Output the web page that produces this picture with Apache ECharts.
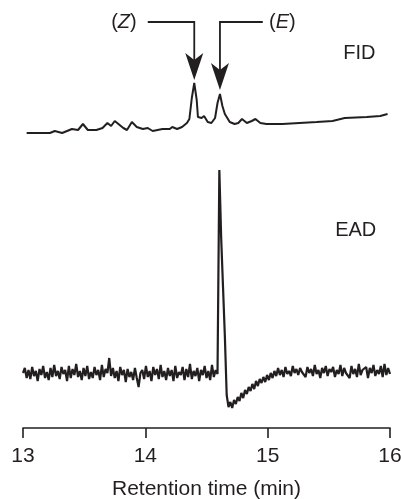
<!DOCTYPE html>
<html>
<head>
<meta charset="utf-8">
<script src="https://cdn.jsdelivr.net/npm/echarts@6/dist/echarts.min.js"></script>
<style>
  html, body { margin: 0; padding: 0; background: #fff; }
  #chart { width: 401px; height: 499px; }
</style>
</head>
<body>
<div id="chart"></div>
<script>
var ink = '#231f20';
var font = '"Liberation Sans", Arial, Helvetica, sans-serif';

var timeTicks = [13, 14, 15, 16];

// FID trace, retention time (min) and signal (arbitrary units)
var fidTimes = [13.03, 13.22, 13.26, 13.32, 13.40, 13.45, 13.49, 13.53, 13.60, 13.65,
  13.69, 13.72, 13.75, 13.78, 13.82, 13.85, 13.89, 13.93, 13.98, 14.02,
  14.06, 14.14, 14.20, 14.22, 14.26, 14.30, 14.34, 14.36, 14.38, 14.40,
  14.42, 14.43, 14.46, 14.48, 14.51, 14.54, 14.57, 14.59, 14.61, 14.63,
  14.65, 14.69, 14.73, 14.76, 14.79, 14.83, 14.87, 14.90, 14.94, 14.99,
  15.12, 15.40, 15.53, 15.63, 15.81, 15.92, 15.98];
var fidValues = [295, 295, 297, 295, 299, 298, 304, 298, 298, 300,
  305, 302, 307, 304, 300, 298, 306, 301, 299, 300,
  297, 299, 299, 301, 299, 301, 305, 309, 330, 345,
  328, 311, 310, 312, 306, 305, 310, 325, 334, 322,
  314, 306, 304, 305, 309, 305, 307, 309, 305, 304,
  304, 306, 307, 310, 311, 312, 314];

// EAD trace, one reading every 0.015 min from 13.00 min
var eadStart = 13.0;
var eadStep = 0.015;
var eadValues = [
  55, 60, 50, 58, 49, 61, 52, 57, 47, 59,
  53, 62, 50, 56, 48, 60, 51, 63, 52, 57,
  49, 61, 54, 58, 47, 62, 50, 59, 53, 64,
  51, 57, 48, 60, 52, 62, 49, 56, 50, 61,
  53, 58, 48, 63, 51, 59, 55, 70, 52, 60,
  50, 57, 47, 61, 53, 58, 46, 59, 51, 56,
  48, 60, 50, 41, 55, 58, 49, 62, 51, 57,
  47, 61, 53, 59, 49, 63, 51, 57, 48, 60,
  52, 58, 47, 62, 50, 56, 53, 61, 48, 59,
  51, 64, 49, 57, 52, 60, 47, 58, 53, 62,
  50, 57, 48, 63, 51, 58, 54,
  258,
  190, 141, 92, 33, 21,
  26, 20, 28, 24, 31, 27, 35,
  30, 38, 34, 41, 37, 44, 39, 47, 42, 49,
  45, 51, 46, 53, 48, 55, 50, 57, 52, 60,
  53, 58, 51, 61, 54, 57, 52, 62, 55, 59,
  53, 60, 56, 58, 51, 61, 55, 59, 52, 63,
  54, 58, 50, 60, 55, 62, 52, 59, 56, 61,
  51, 58, 54, 63, 52, 60, 55, 57, 50, 62,
  54, 59, 51, 64, 53, 58, 56, 61, 50, 60,
  55, 63, 52, 58, 54, 62, 51, 64, 53, 60, 54];

// isomer arrows
var isomerNames = ['Z', 'E'];
var isomerLabelTimes = [13.825, 15.12];
var arrowStartTimes = [14.02, 14.96];
var arrowPeakTimes = [14.40, 14.61];
var arrowTipLevels = [348, 338];
var arrowLevel = 406;

// trace names
var traceNames = ['FID', 'EAD'];
var traceNameTimes = [15.75, 15.72];
var traceNameLevels = [375, 198];

var fidData = fidTimes.map(function (t, i) { return [t, fidValues[i]]; });
var eadData = eadValues.map(function (v, i) { return [eadStart + i * eadStep, v]; });
var arrowData = isomerNames.map(function (n, i) {
  return [arrowStartTimes[i], arrowPeakTimes[i], arrowTipLevels[i], isomerLabelTimes[i]];
});
var nameData = traceNames.map(function (n, i) {
  return [traceNameTimes[i], traceNameLevels[i]];
});

var chart = echarts.init(document.getElementById('chart'));

chart.setOption({
  animation: false,
  backgroundColor: '#fff',
  grid: { left: 23, right: 11, top: 0, bottom: 71, outerBoundsMode: 'none' },
  xAxis: {
    type: 'value',
    min: timeTicks[0],
    max: timeTicks[timeTicks.length - 1],
    interval: 1,
    name: 'Retention time (min)',
    nameLocation: 'middle',
    nameGap: 51,
    nameTextStyle: { color: ink, fontSize: 21, fontFamily: font },
    axisLine: { lineStyle: { color: ink, width: 1.6 } },
    axisTick: { length: 10, lineStyle: { color: ink, width: 1.6 } },
    axisLabel: { color: ink, fontSize: 21, fontFamily: font, margin: 18 },
    splitLine: { show: false }
  },
  yAxis: { type: 'value', min: 0, max: 428, show: false },
  series: [
    {
      name: 'FID',
      type: 'line',
      data: fidData,
      showSymbol: false,
      lineStyle: { color: ink, width: 2 }
    },
    {
      name: 'EAD',
      type: 'line',
      data: eadData,
      showSymbol: false,
      lineStyle: { color: ink, width: 2.2 }
    },
    {
      type: 'custom',
      data: arrowData,
      encode: { x: [0, 1, 3], y: 2 },
      renderItem: function (params, api) {
        var start = api.coord([api.value(0), arrowLevel]);
        var elbow = api.coord([api.value(1), arrowLevel]);
        var tip = api.coord([api.value(1), api.value(2)]);
        var lbl = api.coord([api.value(3), arrowLevel]);
        var hw = 9, hh = 27, notch = 7;
        return {
          type: 'group',
          children: [
            {
              type: 'polyline',
              shape: { points: [start, elbow, [tip[0], tip[1] - hh + notch]] },
              style: { stroke: ink, lineWidth: 1.8, fill: null }
            },
            {
              type: 'polygon',
              shape: { points: [[tip[0], tip[1]], [tip[0] - hw, tip[1] - hh],
                [tip[0], tip[1] - hh + notch], [tip[0] + hw, tip[1] - hh]] },
              style: { fill: ink }
            },
            {
              type: 'text',
              x: lbl[0],
              y: lbl[1],
              style: {
                text: '({i|' + isomerNames[params.dataIndex] + '})',
                fill: ink,
                font: '20px ' + font,
                align: 'center',
                verticalAlign: 'middle',
                rich: { i: { fontStyle: 'italic', fontSize: 20, fontFamily: font, fill: ink } }
              }
            }
          ]
        };
      }
    },
    {
      type: 'custom',
      data: nameData,
      renderItem: function (params, api) {
        var p = api.coord([api.value(0), api.value(1)]);
        return {
          type: 'text',
          x: p[0],
          y: p[1],
          style: {
            text: traceNames[params.dataIndex],
            fill: ink,
            font: '20px ' + font,
            align: 'center',
            verticalAlign: 'middle'
          }
        };
      }
    }
  ]
});
</script>
</body>
</html>
